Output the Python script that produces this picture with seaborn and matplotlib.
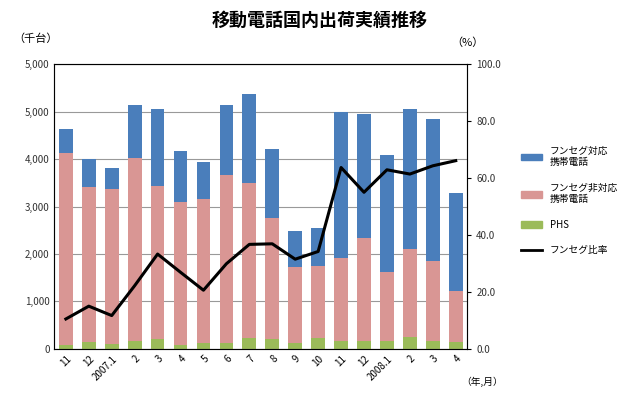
import pandas as pd
import numpy as np
import seaborn as sns
import matplotlib.pyplot as plt
from matplotlib.patches import Patch
from matplotlib.lines import Line2D

plt.rcParams["font.family"] = "Noto Sans CJK JP"

months = ["11", "12", "2007.1", "2", "3", "4", "5", "6", "7", "8", "9", "10",
          "11", "12", "2008.1", "2", "3", "4"]
total = [4624, 3992, 3816, 5144, 5060, 4174, 3935, 5130, 5362, 4216, 2474, 2544,
         4996, 4947, 4083, 5060, 4842, 3282]
pink_top = [4132, 3401, 3359, 4013, 3436, 3092, 3162, 3654, 3486, 2748, 1729, 1750,
            1918, 2326, 1630, 2115, 1862, 1230]
phs = [77, 148, 112, 162, 204, 77, 126, 126, 239, 204, 126, 239,
       162, 176, 162, 253, 176, 148]
ratio = [10.5, 15.0, 11.7, 22.2, 33.3, 26.9, 20.6, 29.9, 36.7, 36.9, 31.5, 34.2,
         63.7, 55.0, 62.9, 61.4, 64.3, 66.1]

blue = "#4a7ebb"
pink = "#d99694"
green = "#9bbb59"

df = pd.DataFrame({"pos": [str(i) for i in range(len(months))],
                   "total": total, "pink": pink_top, "phs": phs})

fig = plt.figure(figsize=(6.4, 4.01), dpi=100)
ax = fig.add_axes([0.085, 0.13, 0.645, 0.71])
sns.barplot(data=df, x="pos", y="total", color=blue, width=0.6, saturation=1, ax=ax)
sns.barplot(data=df, x="pos", y="pink", color=pink, width=0.6, saturation=1, ax=ax)
sns.barplot(data=df, x="pos", y="phs", color=green, width=0.6, saturation=1, ax=ax)
ax.set_ylim(0, 6000)
ax.set_xlim(-0.5, len(months) - 0.5)
ax.set_yticks(range(0, 6001, 1000))
ax.set_yticklabels(["0", "1,000", "2,000", "3,000", "4,000", "5,000", "5,000"], fontsize=7, color="#333333")
ax.yaxis.grid(True, color="#999999", lw=0.8)
ax.set_axisbelow(True)
ax.set_xticks(range(len(months)))
ax.set_xticklabels(months, rotation=45, fontsize=7, ha="right", rotation_mode="anchor")
ax.set_xlabel("")
ax.set_ylabel("")
ax.tick_params(length=0)
for s in ax.spines.values():
    s.set_color("#888888")

ax2 = ax.twinx()
ax2.plot(range(len(months)), ratio, color="black", lw=2.2)
ax2.set_ylim(0, 100)
ax2.set_yticks(range(0, 101, 20))
ax2.set_yticklabels([f"{v:.1f}" for v in range(0, 101, 20)], fontsize=7, color="#333333")
ax2.tick_params(length=3)

fig.text(0.5, 0.95, "移動電話国内出荷実績推移", ha="center", va="center", fontsize=13, fontweight="bold")
fig.text(0.02, 0.895, "（千台）", fontsize=8)
fig.text(0.705, 0.885, "（%）", fontsize=8)
fig.text(0.72, 0.04, "（年,月）", fontsize=7)

handles = [Patch(color=blue, label="フンセグ対応\n携帯電話"),
           Patch(color=pink, label="フンセグ非対応\n携帯電話"),
           Patch(color=green, label="PHS"),
           Line2D([], [], color="black", lw=2, label="フンセグ比率")]
fig.legend(handles=handles, loc="center left", bbox_to_anchor=(0.80, 0.5), frameon=False,
           fontsize=7, handlelength=2.2, labelspacing=1.6)

fig.savefig("out.png", dpi=100)
